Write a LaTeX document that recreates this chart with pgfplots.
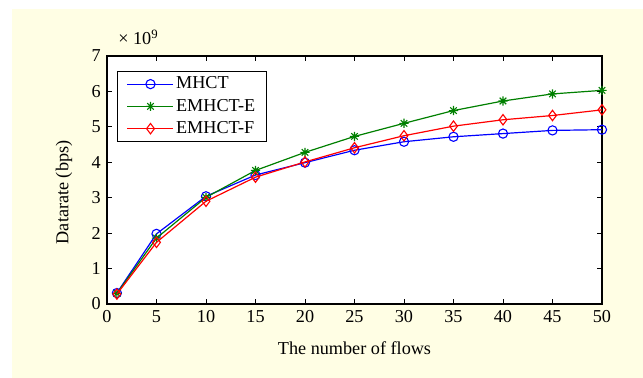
\documentclass[border=0pt]{standalone}
\usepackage{fontspec}
\setmainfont{Liberation Serif}
\usepackage{pgfplots}
\pgfplotsset{compat=1.18}
\definecolor{bgyellow}{RGB}{255,254,228}
\definecolor{mgreen}{RGB}{0,128,0}
\pgfdeclareplotmark{mstar}{%
  \pgfpathmoveto{\pgfqpoint{-\pgfplotmarksize}{0pt}}\pgfpathlineto{\pgfqpoint{\pgfplotmarksize}{0pt}}%
  \pgfpathmoveto{\pgfqpoint{0pt}{-\pgfplotmarksize}}\pgfpathlineto{\pgfqpoint{0pt}{\pgfplotmarksize}}%
  \pgfpathmoveto{\pgfqpoint{-0.707\pgfplotmarksize}{-0.707\pgfplotmarksize}}\pgfpathlineto{\pgfqpoint{0.707\pgfplotmarksize}{0.707\pgfplotmarksize}}%
  \pgfpathmoveto{\pgfqpoint{-0.707\pgfplotmarksize}{0.707\pgfplotmarksize}}\pgfpathlineto{\pgfqpoint{0.707\pgfplotmarksize}{-0.707\pgfplotmarksize}}%
  \pgfusepathqstroke}
\begin{document}
\fontsize{18.2bp}{21bp}\selectfont
\begin{tikzpicture}
\useasboundingbox (0,0) rectangle (643bp,378bp);
\fill[white] (0,0) rectangle (643bp,378bp);
\fill[bgyellow] (12bp,0) rectangle (643bp,369bp);
\begin{axis}[
  at={(107bp,74bp)}, anchor=south west,
  scale only axis, width=495bp, height=248bp,
  xmin=0, xmax=50, ymin=0, ymax=7,
  xtick={0,5,...,50}, ytick={0,1,...,7},
  clip mode=individual,
  axis background/.style={fill=white},
  axis line style={line width=1.3bp, black},
  tick style={line width=0.9bp, black},
  major tick length=5bp,
  tick align=inside,
  /pgf/number format/assume math mode=true,
  tick label style={font=\fontsize{18.2bp}{21bp}\selectfont},
  label style={font=\fontsize{18.2bp}{21bp}\selectfont},
  xlabel={The number of flows},
  ylabel={Datarate (bps)},
  every axis x label/.style={at={(axis description cs:0.5,-0.177)},anchor=center},
  every axis y label/.style={at={(axis description cs:-0.087,0.45)},anchor=center,rotate=90},
  legend style={at={(axis description cs:0.0208,0.941)}, anchor=north west,
    draw=black, line width=1.2bp, fill=white,
    font=\fontsize{18.2bp}{21bp}\selectfont, row sep=3.5bp,
    inner xsep=9bp, inner ysep=3.5bp},
  legend cell align=left,
  legend image code/.code={\draw[mark repeat=2,mark phase=2,#1] plot coordinates {(0bp,0bp) (23bp,0bp) (46bp,0bp)};},
]
\addplot[blue, line width=1.2bp, mark=o, mark size=4.6bp, mark options={line width=1.1bp}] coordinates {
 (1,0.31) (5,1.98) (10,3.04) (15,3.64) (20,3.99) (25,4.34) (30,4.58) (35,4.72) (40,4.81) (45,4.90) (50,4.92)};
\addlegendentry{MHCT}
\addplot[mgreen, line width=1.2bp, mark=mstar, mark size=4.6bp, mark options={line width=1.1bp}] coordinates {
 (1,0.30) (5,1.86) (10,3.01) (15,3.77) (20,4.28) (25,4.73) (30,5.10) (35,5.46) (40,5.73) (45,5.93) (50,6.03)};
\addlegendentry{EMHCT-E}
\addplot[red, line width=1.2bp, mark=diamond, mark size=5.2bp, mark options={line width=1.1bp}] coordinates {
 (1,0.28) (5,1.74) (10,2.90) (15,3.58) (20,4.01) (25,4.41) (30,4.75) (35,5.02) (40,5.20) (45,5.32) (50,5.48)};
\addlegendentry{EMHCT-F}
\end{axis}
\node[anchor=base west, font=\fontsize{18.2bp}{21bp}\selectfont] at (112bp,333bp) {× 10\textsuperscript{9}};
\end{tikzpicture}
\end{document}
